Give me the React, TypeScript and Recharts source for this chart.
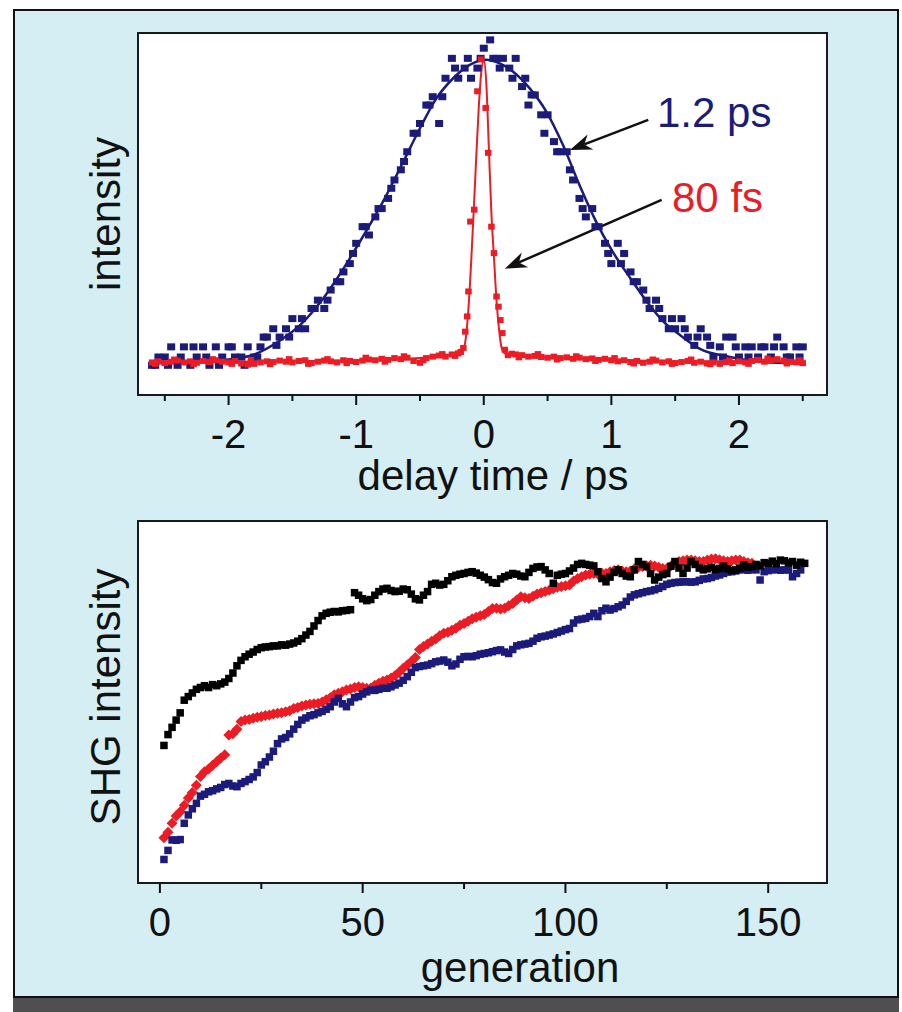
import React from "react";
import { ComposedChart, Scatter, Line, XAxis, YAxis, ReferenceLine } from "recharts";

const FONT = '"Liberation Sans", Arial, Helvetica, sans-serif';
const NAVY = "#1b1b7b";
const RED = "#ec1c24";
const INK = "#111";

// top panel: autocorrelation, delay (ps) vs intensity (0 = box bottom, 100 = box top)
const delayTicks = [-2.5, -2, -1.5, -1, -0.5, 0, 0.5, 1, 1.5, 2, 2.5];

const longScan = [
  [-2.6, 8.2], [-2.55, 10.5], [-2.5, 10.5], [-2.45, 13.3], [-2.4, 8.2], [-2.35, 13.3], [-2.3, 8.2],
  [-2.25, 10.5], [-2.2, 13.3], [-2.15, 8.2], [-2.1, 13.3], [-2.05, 10.5], [-2.0, 13.3], [-1.95, 10.5],
  [-1.9, 10.5], [-1.85, 13.3], [-1.8, 10.5], [-1.75, 13.3], [-1.7, 16.0], [-1.65, 18.3], [-1.6, 16.0],
  [-1.55, 18.3], [-1.5, 21.1], [-1.45, 18.3], [-1.4, 18.3], [-1.35, 23.9], [-1.3, 26.2], [-1.25, 23.9],
  [-1.2, 29.0], [-1.15, 31.3], [-1.1, 34.0], [-1.05, 36.3], [-1.0, 41.9], [-0.95, 46.5], [-0.9, 44.2],
  [-0.85, 49.2], [-0.8, 51.5], [-0.75, 54.3], [-0.7, 59.4], [-0.65, 62.2], [-0.6, 67.2], [-0.55, 72.3],
  [-0.5, 75.0], [-0.45, 80.1], [-0.4, 82.4], [-0.35, 75.0], [-0.3, 87.5], [-0.25, 93.0], [-0.2, 87.5],
  [-0.15, 90.3], [-0.1, 87.5], [-0.05, 90.3], [0, 95.8], [0.05, 98.1], [0.1, 93.0], [0.15, 93.0],
  [0.2, 90.3], [0.25, 93.0], [0.3, 85.2], [0.35, 80.1], [0.4, 82.9], [0.45, 77.4], [0.5, 77.4],
  [0.55, 70.0], [0.6, 67.2], [0.65, 67.2], [0.7, 59.4], [0.75, 54.3], [0.8, 49.2], [0.85, 51.5],
  [0.9, 46.5], [0.95, 41.9], [1.0, 36.3], [1.05, 41.9], [1.1, 39.1], [1.15, 34.0], [1.2, 31.3],
  [1.25, 29.0], [1.3, 23.9], [1.35, 26.2], [1.4, 21.1], [1.45, 18.3], [1.5, 18.3], [1.55, 21.1],
  [1.6, 16.0], [1.65, 13.7], [1.7, 18.3], [1.75, 16.0], [1.8, 10.5], [1.85, 13.3], [1.9, 16.0],
  [1.95, 16.0], [2.0, 10.5], [2.05, 13.3], [2.1, 13.3], [2.15, 10.5], [2.2, 13.3], [2.25, 10.5],
  [2.3, 16.0], [2.35, 13.3], [2.4, 10.5], [2.45, 13.3], [2.5, 13.3],
  // second pass of the long-pulse scan, interleaved
  [-2.575, 8.2], [-2.475, 8.2], [-2.375, 10.5], [-2.275, 13.3], [-2.175, 10.5], [-2.075, 8.2],
  [-1.975, 13.3], [-1.875, 8.2], [-1.775, 10.5], [-1.725, 16.0], [-1.625, 13.7], [-1.525, 16.0],
  [-1.425, 21.1], [-1.325, 23.9], [-1.225, 26.2], [-1.125, 31.3], [-1.025, 39.1], [-0.925, 46.5],
  [-0.825, 51.5], [-0.725, 57.1], [-0.625, 64.5], [-0.525, 72.3], [-0.425, 80.1], [-0.325, 82.4],
  [-0.225, 90.3], [-0.125, 93.0], [-0.025, 93.0], [0.075, 93.0], [0.125, 90.3], [0.225, 87.5],
  [0.325, 87.5], [0.375, 82.9], [0.475, 72.3], [0.575, 67.2], [0.675, 62.2], [0.775, 51.5],
  [0.875, 46.5], [0.975, 39.1], [1.075, 36.3], [1.175, 31.3], [1.275, 26.2], [1.375, 23.9],
  [1.475, 21.1], [1.575, 18.3], [1.675, 16.0], [1.775, 13.7], [1.875, 10.5], [1.975, 13.3],
  [2.075, 10.5], [2.175, 13.3], [2.275, 13.3], [2.375, 10.5], [2.475, 10.5],
];

const longFit = [
  [-2.6, 8.8], [-2.4, 8.9], [-2.2, 9.1], [-2.0, 9.8], [-1.8, 11.2], [-1.6, 15], [-1.44, 19.3],
  [-1.26, 26.6], [-1.1, 34.9], [-0.94, 44.2], [-0.79, 53.4], [-0.63, 64.5], [-0.5, 73.7], [-0.37, 82],
  [-0.24, 87.5], [-0.11, 91.2], [0.02, 92.6], [0.125, 91.6], [0.23, 89.3], [0.36, 84.7], [0.49, 78.3],
  [0.62, 69.1], [0.75, 58], [0.88, 47.9], [1.01, 39.6], [1.15, 32.2], [1.28, 25.7], [1.41, 20.2],
  [1.54, 16.5], [1.69, 12.8], [1.93, 10.5], [2.19, 9.1], [2.48, 8.7],
];

const shortScan = [
  [-2.6, 9.0], [-2.55, 9.3], [-2.5, 8.8], [-2.45, 9.2], [-2.4, 9.5], [-2.35, 9.0], [-2.3, 9.3],
  [-2.25, 8.9], [-2.2, 9.4], [-2.15, 9.1], [-2.1, 9.6], [-2.05, 9.2], [-2.0, 9.0], [-1.95, 9.4],
  [-1.9, 8.7], [-1.85, 8.4], [-1.8, 8.6], [-1.75, 9.0], [-1.7, 9.3], [-1.65, 9.1], [-1.6, 9.5],
  [-1.55, 9.2], [-1.5, 9.0], [-1.45, 9.4], [-1.4, 9.6], [-1.35, 8.8], [-1.3, 9.2], [-1.25, 9.5],
  [-1.2, 9.3], [-1.15, 9.0], [-1.1, 9.6], [-1.05, 9.4], [-1.0, 9.1], [-0.95, 9.5], [-0.9, 9.8],
  [-0.85, 9.6], [-0.8, 10.0], [-0.75, 9.7], [-0.7, 10.2], [-0.65, 9.9], [-0.6, 10.3], [-0.55, 9.4],
  [-0.5, 8.9], [-0.45, 10.2], [-0.4, 10.6], [-0.35, 10.9], [-0.3, 10.6], [-0.25, 11.2], [-0.2, 11.5],
  [-0.18, 11.9], [-0.16, 13.0], [-0.145, 17.5], [-0.13, 21.7], [-0.12, 28.6], [-0.105, 47.9],
  [-0.075, 51.2], [-0.05, 83.9], [-0.02, 92.7], [0.015, 79.3], [0.035, 66.9], [0.06, 46.5],
  [0.08, 39.2], [0.1, 27.2], [0.115, 24.4], [0.13, 20.7], [0.145, 17.1], [0.165, 12.5], [0.19, 11.0],
  [0.22, 11.4], [0.25, 11.2], [0.3, 11.0], [0.35, 10.6], [0.4, 10.8], [0.45, 10.5], [0.5, 10.3],
  [0.55, 10.6], [0.6, 10.2], [0.65, 10.4], [0.7, 10.0], [0.75, 10.3], [0.8, 9.9], [0.85, 10.1],
  [0.9, 9.7], [0.95, 10.0], [1.0, 9.6], [1.05, 9.3], [1.1, 9.6], [1.15, 9.1], [1.2, 9.4], [1.25, 8.9],
  [1.3, 9.2], [1.35, 9.5], [1.4, 9.0], [1.45, 9.3], [1.5, 8.8], [1.55, 9.1], [1.6, 9.4], [1.65, 8.9],
  [1.7, 9.2], [1.75, 8.7], [1.8, 9.0], [1.85, 8.6], [1.9, 9.1], [1.95, 8.8], [2.0, 9.3], [2.05, 9.0],
  [2.1, 9.4], [2.15, 9.7], [2.2, 9.2], [2.25, 9.6], [2.3, 9.9], [2.35, 9.5], [2.4, 9.2], [2.45, 9.0],
  [2.5, 8.8],
  // interleaved baseline samples
  [-2.575, 8.6], [-2.425, 9.8], [-2.275, 8.5], [-2.125, 9.9], [-1.975, 8.6], [-1.825, 9.7],
  [-1.675, 8.5], [-1.525, 9.9], [-1.375, 8.6], [-1.225, 9.9], [-1.075, 8.8], [-0.925, 10.3],
  [-0.775, 9.2], [-0.625, 10.7], [-0.475, 9.6], [-0.325, 11.3], [-0.225, 10.8],
  [0.275, 10.4], [0.425, 11.3], [0.575, 9.8], [0.725, 10.7], [0.875, 9.4], [1.025, 10.2],
  [1.175, 8.7], [1.325, 9.8], [1.475, 8.6], [1.625, 9.8], [1.775, 8.5], [1.925, 9.5],
  [2.075, 8.6], [2.225, 10.1], [2.375, 8.7], [2.475, 9.6],
];

const shortFit = [
  [-2.6, 9.2], [-1.5, 9.3], [-0.8, 9.8], [-0.4, 10.5], [-0.2, 11.3], [-0.16, 12.5], [-0.14, 16],
  [-0.12, 24], [-0.1, 36], [-0.08, 50], [-0.06, 65], [-0.04, 79], [-0.02, 89], [0, 92.6], [0.02, 86],
  [0.04, 68], [0.06, 50], [0.08, 38], [0.1, 26], [0.12, 18], [0.14, 13], [0.17, 11.4], [0.3, 10.8],
  [0.8, 10.0], [1.5, 9.3], [2.5, 9.2],
];

// bottom panel: SHG intensity per generation (starting at generation 1)
const generationTicks = [0, 25, 50, 75, 100, 125, 150];

const shgBlack = [
  38, 41, 43, 45, 47, 50.5, 51.5, 52.5, 53.5, 54,
  54.5, 54, 54.8, 54.5, 55, 55.5, 56.5, 58, 60, 61.5,
  62.5, 63.2, 63.8, 64.5, 65, 65.2, 65.3, 65.5, 65.5, 65.8,
  65.7, 66, 66.3, 66.8, 67.5, 68.5, 69.5, 71, 72.5, 73.8,
  74.5, 74.8, 75, 74.9, 75.2, 75.3, 75.5, 80.2, 79.5, 78.5,
  78, 78.3, 79.5, 80.5, 81.2, 81.4, 80.8, 80.5, 80.6, 81.2,
  81, 79.8, 78.5, 78.2, 79.5, 80.5, 82.5, 82.8, 82.3, 82.5,
  83.5, 84.6, 85, 85.3, 85.5, 85.8, 86, 85.6, 85, 84.5,
  83.8, 83, 82.8, 84, 84.6, 85, 85.5, 85.3, 84.8, 84.6,
  85.8, 86.9, 87.3, 87.4, 86.5, 85.5, 82.8, 85, 85.3, 85.5,
  86.2, 87, 88, 88.3, 88, 87.8, 87.6, 86, 84.1, 83.2,
  84.5, 85.8, 86.5, 85.5, 84.8, 84.6, 86.5, 88.8, 88, 87.4,
  85.5, 83.7, 84.5, 85.2, 85.5, 87.5, 88.8, 87, 85.5, 87,
  88.8, 88, 87, 86.5, 86.8, 87.2, 86.6, 86.9, 87.5, 86.8,
  86.3, 86.5, 87, 87.8, 87.2, 87.4, 88, 87.6, 88.5, 88.3,
  88.9, 88.2, 89.2, 89, 88.4, 88.8, 87.8, 88.6, 88.3,
];

const shgRed = [
  12.5, 14, 16.5, 18.5, 19.7, 21.5, 23.5, 25, 27, 29.4,
  30.7, 31.5, 32.5, 33.5, 34.5, 35.4, 40.9, 41.2, 42.5, 44.6,
  45, 45.2, 45.5, 45.8, 46, 46.3, 46.4, 46.7, 46.9, 47,
  47.3, 47.6, 48.2, 48.5, 48.9, 49.2, 49.4, 49.5, 49.6, 50,
  50.6, 51.2, 52, 52.4, 52.8, 53.3, 53.6, 54, 54.2, 54,
  53.8, 53.8, 54.6, 55.2, 55.7, 56.1, 56.6, 57.3, 58.2, 59.3,
  60.2, 61.2, 62.3, 64.5, 65.3, 66, 66.8, 67.4, 68.3, 69,
  69.3, 69.8, 70.4, 71.2, 71.7, 72.3, 73, 73.4, 73.8, 74.2,
  75, 75.8, 75.9, 75.7, 75.9, 76.6, 77.2, 78.2, 79.1, 78.8,
  78.6, 79.2, 79.8, 80.2, 80.5, 80.9, 81.3, 81.7, 81.9, 82.1,
  82.3, 83.4, 84.1, 84.6, 85.1, 85.3, 85.5, 85.3, 85.6, 85.5,
  86, 86.3, 86.5, 86.2, 86, 86.2, 86.8, 87.2, 87.4, 87.6,
  87.8, 87.6, 87.2, 86.9, 86.9, 87.6, 88.3, 88.8, 89, 89.2,
  89.2, 89, 88.8, 88.8, 89.2, 89.5, 89.6, 89.3, 89, 88.8,
  89, 89.2, 89.2, 88.8, 88.5, 88.3,
];

const shgBlue = [
  6.5, 9, 11.9, 11.8, 12, 16.5, 18.8, 20.5, 22, 24,
  24.5, 25.2, 25.5, 26, 26.4, 27.2, 27.5, 26.8, 26.6, 27.5,
  28, 28.6, 29.3, 30.5, 32.6, 33.5, 34.8, 36.4, 38.5, 39.8,
  40.2, 41.2, 42.5, 43.8, 45, 45.6, 46.2, 46.5, 47, 47.4,
  48, 48.7, 50, 51, 49.5, 48.7, 50, 51.2, 51.5, 52.2,
  52.8, 53.3, 53.2, 53.5, 53.8, 53.8, 54.2, 54.7, 55.2, 56,
  57, 58.2, 59.5, 59.8, 60, 60.2, 60.6, 61.1, 61.3, 61.6,
  61, 60, 60.5, 61.8, 62.5, 62.6, 62.5, 62.8, 63.2, 63.4,
  63.6, 63.9, 64.2, 64.4, 63.8, 63.4, 64.5, 65.5, 65.8, 66,
  66.2, 66.8, 67.6, 68, 68.2, 68.5, 68.8, 69.2, 69.6, 70,
  70.3, 71.8, 72.7, 72.9, 73.1, 73.6, 74.5, 73.6, 75.2, 75.9,
  75.4, 75.8, 76.3, 76.8, 77.8, 79, 79.6, 79.9, 80.2, 80.5,
  80.7, 81, 81.4, 81.9, 82.5, 82.8, 83, 83.1, 83.2, 83.2,
  83.1, 83.2, 83.6, 84, 84.1, 84.4, 84.8, 85.1, 85.5, 85.9,
  86, 86.2, 86.5, 86.6, 86.4, 86.6, 86.5, 83.7, 86, 86.3,
  86.5, 86.6, 86.4, 86.5, 86.5, 84.6, 85.5, 86.5,
];

const pairs = (rows: number[][]) => rows.map(([x, y]) => ({ x, y }));
const byGeneration = (vals: number[]) => vals.map((y, i) => ({ x: i + 1, y }));

const block = (w: number, h: number, color: string) => (p: any) => (
  <rect x={p.cx - w / 2} y={p.cy - h / 2} width={w} height={h} fill={color} />
);
const diamond = (r: number, color: string) => (p: any) => (
  <polygon
    points={`${p.cx},${p.cy - r} ${p.cx + r},${p.cy} ${p.cx},${p.cy + r} ${p.cx - r},${p.cy}`}
    fill={color}
  />
);

const makeTick = (isMajor: (v: number) => boolean) => (props: any) => {
  const { x, y, payload } = props;
  const major = isMajor(payload.value);
  return (
    <g>
      <line x1={x} x2={x} y1={y} y2={y + (major ? 10 : 6)} stroke={INK} strokeWidth={2} />
      {major && (
        <text x={x} y={y + 53} textAnchor="middle" fontSize={40} fontFamily={FONT} fill={INK}>
          {String(payload.value)}
        </text>
      )}
    </g>
  );
};

function Arrow(props: any) {
  const { x1, y1, x2, y2 } = props;
  const dx = x2 - x1;
  const dy = y2 - y1;
  const len = Math.hypot(dx, dy) || 1;
  const ux = dx / len;
  const uy = dy / len;
  const head = 22;
  const half = 8;
  const bx = x2 - ux * head;
  const by = y2 - uy * head;
  const nx = x2 - ux * head * 0.7;
  const ny = y2 - uy * head * 0.7;
  const pts = `${x2},${y2} ${bx - uy * half},${by + ux * half} ${nx},${ny} ${bx + uy * half},${by - ux * half}`;
  return (
    <g>
      <line x1={x1} y1={y1} x2={nx} y2={ny} stroke={INK} strokeWidth={2.5} />
      <polygon points={pts} fill={INK} />
    </g>
  );
}

const plotBox = (top: number): React.CSSProperties => ({
  position: "absolute",
  left: 137,
  top,
  width: 691,
  height: 364,
  boxSizing: "border-box",
  background: "#fff",
  border: "2px solid #1a1a1a",
});

export default function App() {
  return (
    <div style={{ position: "absolute", left: 0, top: 0, width: 902, height: 1012, background: "#fff" }}>
      <div
        style={{
          position: "absolute",
          left: 13,
          top: 9,
          width: 886,
          height: 989,
          boxSizing: "border-box",
          background: "#d5eef4",
          border: "2px solid #111",
          boxShadow: "0 14px 0 #4f4f4f",
        }}
      />
      <div style={plotBox(32)} />
      <div style={plotBox(520)} />

      <div style={{ position: "absolute", left: 0, top: 0 }}>
        <ComposedChart width={902} height={520} margin={{ top: 33, right: 75, bottom: 65, left: 138 }}>
          <XAxis
            type="number"
            dataKey="x"
            domain={[-2.71, 2.69]}
            ticks={delayTicks}
            interval={0}
            allowDataOverflow
            axisLine={false}
            tickLine={false}
            tickSize={0}
            tickMargin={0}
            height={60}
            tick={makeTick((v) => Number.isInteger(v))}
          />
          <YAxis type="number" dataKey="y" domain={[0, 100]} allowDataOverflow hide />
          <Scatter data={pairs(longScan)} fill={NAVY} shape={block(8, 7, NAVY)} isAnimationActive={false} />
          <Line
            data={pairs(longFit)}
            dataKey="y"
            type="monotone"
            stroke={NAVY}
            strokeWidth={2.5}
            dot={false}
            isAnimationActive={false}
          />
          <Scatter data={pairs(shortScan)} fill={RED} shape={block(6.5, 6, RED)} isAnimationActive={false} />
          <Line
            data={pairs(shortFit)}
            dataKey="y"
            type="monotone"
            stroke={RED}
            strokeWidth={2}
            dot={false}
            isAnimationActive={false}
          />
          <ReferenceLine segment={[{ x: 1.289, y: 76 }, { x: 0.675, y: 67.7 }]} shape={Arrow} />
          <ReferenceLine segment={[{ x: 1.394, y: 53.9 }, { x: 0.165, y: 34.9 }]} shape={Arrow} />
        </ComposedChart>
      </div>

      <div style={{ position: "absolute", left: 0, top: 500 }}>
        <ComposedChart width={902} height={512} margin={{ top: 21, right: 75, bottom: 69, left: 138 }}>
          <XAxis
            type="number"
            dataKey="x"
            domain={[-5.4, 164.5]}
            ticks={generationTicks}
            interval={0}
            allowDataOverflow
            axisLine={false}
            tickLine={false}
            tickSize={0}
            tickMargin={0}
            height={60}
            tick={makeTick((v) => v % 50 === 0)}
          />
          <YAxis type="number" dataKey="y" domain={[0, 100]} allowDataOverflow hide />
          <Scatter data={byGeneration(shgRed)} fill={RED} shape={diamond(5.5, RED)} isAnimationActive={false} />
          <Scatter data={byGeneration(shgBlue)} fill={NAVY} shape={block(7.5, 7.5, NAVY)} isAnimationActive={false} />
          <Scatter data={byGeneration(shgBlack)} fill="#000" shape={block(7.5, 7.5, "#000")} isAnimationActive={false} />
        </ComposedChart>
      </div>

      <svg
        width={902}
        height={1012}
        style={{ position: "absolute", left: 0, top: 0, pointerEvents: "none" }}
        fontFamily={FONT}
        fontSize={42}
      >
        <text transform="translate(120,214) rotate(-90)" textAnchor="middle" fill={INK}>
          intensity
        </text>
        <text transform="translate(120,697) rotate(-90)" textAnchor="middle" fill={INK}>
          SHG intensity
        </text>
        <text x={493} y={490} textAnchor="middle" fill={INK}>
          delay time / ps
        </text>
        <text x={520} y={982} textAnchor="middle" fill={INK}>
          generation
        </text>
        <text x={657} y={127} fill={NAVY}>
          1.2 ps
        </text>
        <text x={672} y={212} fill={RED}>
          80 fs
        </text>
      </svg>
    </div>
  );
}
